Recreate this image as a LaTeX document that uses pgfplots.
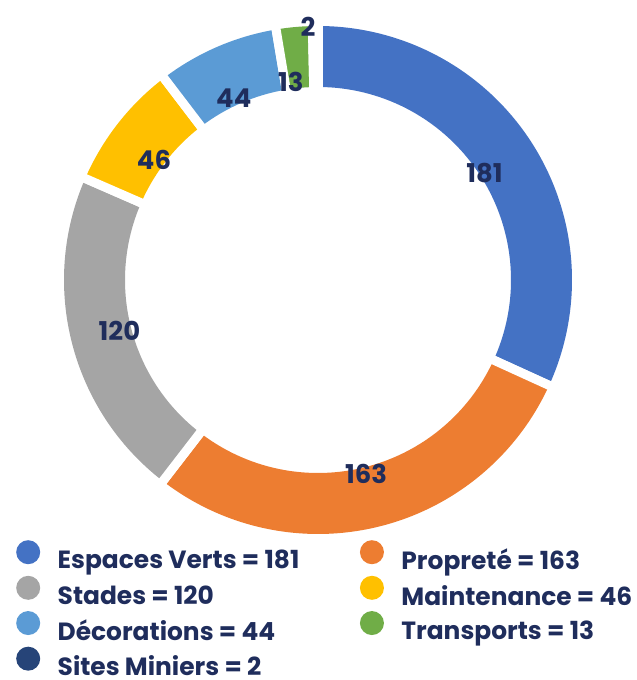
\documentclass[border=0pt]{standalone}
\usepackage{pgfplots}
\pgfplotsset{compat=1.18}
\usepackage{fontspec}
\setmainfont{Poppins}
\definecolor{cEV}{HTML}{4472C4}
\definecolor{cPR}{HTML}{ED7D31}
\definecolor{cST}{HTML}{A5A5A5}
\definecolor{cMA}{HTML}{FFC000}
\definecolor{cDE}{HTML}{5B9BD5}
\definecolor{cTR}{HTML}{70AD47}
\definecolor{cSM}{HTML}{264478}
\definecolor{navy}{HTML}{1F2D5C}
\begin{document}
\begin{tikzpicture}
\begin{axis}[
  x=1bp, y=1bp,
  xmin=-318, xmax=319, ymin=-400, ymax=280,
  hide axis, clip=false,
  legend columns=2,
  legend cell align=left,
  legend image code/.code={\fill[#1,draw=none] (12bp,8bp) circle (12bp);},
  legend style={at={(axis cs:-302,-260)}, anchor=north west, draw=none, fill=none,
    inner sep=0pt, row sep=4bp, font=\bfseries\fontsize{25}{28}\selectfont, text=navy,
    nodes={inner sep=0.5bp},
    /tikz/every odd column/.append style={column sep=17bp},
    /tikz/every even column/.append style={column sep=60bp}},
]
\addlegendimage{cEV}\addlegendentry{Espaces Verts = 181}
\addlegendimage{cPR}\addlegendentry{Propreté = 163}
\addlegendimage{cST}\addlegendentry{Stades = 120}
\addlegendimage{cMA}\addlegendentry{Maintenance = 46}
\addlegendimage{cDE}\addlegendentry{Décorations = 44}
\addlegendimage{cTR}\addlegendentry{Transports = 13}
\addlegendimage{cSM}\addlegendentry{Sites Miniers = 2}
\pgfplotsextra{
  \pgfmathsetmacro\tot{181+163+120+46+44+13+2}
  \gdef\cum{0}
  \foreach \v/\c in {181/cEV, 163/cPR, 120/cST, 46/cMA, 44/cDE, 13/cTR, 2/cSM}{
    \pgfmathsetmacro\sa{90-(\cum/\tot)*360}
    \pgfmathsetmacro\ea{90-((\cum+\v)/\tot)*360}
    \fill[\c] (axis cs:0,0) ++(\sa:254bp) arc[start angle=\sa,end angle=\ea,radius=254bp] -- ++(\ea:-61bp) arc[start angle=\ea,end angle=\sa,radius=193bp] -- cycle;
    \draw[white, line width=9bp] (axis cs:0,0) ++(\sa:180bp) -- ++(\sa:90bp);
    \pgfmathsetmacro\newcum{\cum+\v}
    \global\let\cum\newcum
    \draw[white, line width=9bp] (axis cs:0,0) ++(\ea:180bp) -- ++(\ea:90bp);
  }
  \gdef\cum{0}
  \foreach \v/\c/\r/\da in {181/cEV/198/0, 163/cPR/200/0, 120/cST/205/0, 46/cMA/203/2, 44/cDE/200/1.5, 13/cTR/200/2.4, 2/cSM/253/1.6}{
    \pgfmathsetmacro\sa{90-(\cum/\tot)*360}
    \pgfmathsetmacro\ea{90-((\cum+\v)/\tot)*360}
    \pgfmathsetmacro\ma{(\sa+\ea)/2+\da}
    \node[text=navy, font=\bfseries\fontsize{26}{28}\selectfont] at ([shift={(\ma:\r bp)}]axis cs:0,0) {\v};
    \pgfmathsetmacro\newcum{\cum+\v}
    \global\let\cum\newcum
  }
}
\end{axis}
\pgfresetboundingbox
\path (current axis.south west) rectangle (current axis.north east);
\end{tikzpicture}
\end{document}
